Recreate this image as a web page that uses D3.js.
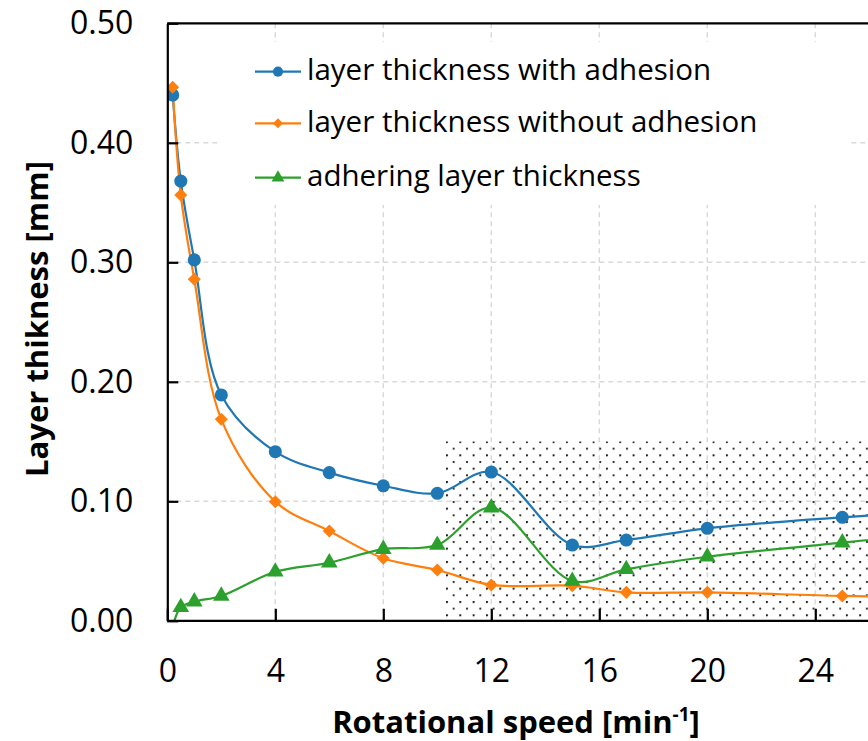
<!DOCTYPE html>
<html>
<head>
<meta charset="utf-8">
<script src="https://cdn.jsdelivr.net/npm/d3@7"></script>
<style>
  body { margin: 0; background: #fff; }
  svg { display: block; font-family: "Open Sans", sans-serif; }
</style>
</head>
<body>
<svg id="mainSVG" width="868" height="741"></svg>
<script>
// values
var speeds = [0.2, 0.5, 1, 2, 4, 6, 8, 10, 12, 15, 17, 20, 25, 30];
var withAdhesion = [0.440, 0.368, 0.302, 0.189, 0.1415, 0.124, 0.113, 0.1067, 0.1245, 0.0634, 0.0676, 0.0774, 0.0866, 0.094];
var withoutAdhesion = [0.4465, 0.3563, 0.2858, 0.1686, 0.0997, 0.0751, 0.0523, 0.0425, 0.030, 0.0294, 0.0238, 0.0238, 0.0208, 0.019];
var adhering = [-0.005, 0.0113, 0.016, 0.0208, 0.041, 0.0486, 0.060, 0.0634, 0.0947, 0.0333, 0.0431, 0.0536, 0.0654, 0.077];
var seriesNames = ["layer thickness with adhesion", "layer thickness without adhesion", "adhering layer thickness"];
var xTicks = [0, 4, 8, 12, 16, 20, 24];
var yTicks = [0, 0.1, 0.2, 0.3, 0.4, 0.5];
var shadedSpeed = [10.3, 30];
var shadedThickness = [0, 0.15];

var mainSVG = d3.select("#mainSVG");

var colors = ["#1f77b4", "#ff7f0e", "#2ca02c"];
// losango = quadrado girado 45 graus
var symbols = [d3.symbolCircle, d3.symbolSquare, d3.symbolTriangle];
var symbolRotate = [0, 45, 0];
var symbolSizes = [135, 85, 120];

// escalas
var xScale = d3.scaleLinear().domain([0, 28]).range([167.3, 923.3]);
var yScale = d3.scaleLinear().domain([0, 0.5]).range([620.8, 23.3]);

var left = xScale(0), top0 = yScale(0.5), bottom = yScale(0);

// area de recorte do grafico
mainSVG.append("defs").append("clipPath")
	.attr("id", "plotClip")
	.append("rect")
	.attr("x", left)
	.attr("y", top0)
	.attr("width", 868 - left)
	.attr("height", bottom - top0);

// padrao pontilhado
var pattern = mainSVG.select("defs").append("pattern")
	.attr("id", "dots")
	.attr("patternUnits", "userSpaceOnUse")
	.attr("width", 13.33)
	.attr("height", 13.33)
	.attr("x", 446)
	.attr("y", 441);
pattern.append("circle").attr("cx", 1).attr("cy", 1).attr("r", 1.1).attr("fill", "#111");
pattern.append("circle").attr("cx", 7.67).attr("cy", 7.67).attr("r", 1.1).attr("fill", "#111");

// grade
mainSVG.append("g")
	.selectAll("line")
	.data(xTicks.filter(function (d) { return d > 0; }))
	.enter().append("line")
	.attr("x1", function (d) { return xScale(d); })
	.attr("x2", function (d) { return xScale(d); })
	.attr("y1", top0)
	.attr("y2", bottom)
	.attr("stroke", "#d9d9d9")
	.attr("stroke-width", 1.5)
	.attr("stroke-dasharray", "5,4");
mainSVG.append("g")
	.selectAll("line")
	.data(yTicks.filter(function (d) { return d > 0 && d < 0.5; }))
	.enter().append("line")
	.attr("x1", left)
	.attr("x2", 868)
	.attr("y1", function (d) { return yScale(d); })
	.attr("y2", function (d) { return yScale(d); })
	.attr("stroke", "#d9d9d9")
	.attr("stroke-width", 1.5)
	.attr("stroke-dasharray", "5,4");

// regiao pontilhada
mainSVG.append("rect")
	.attr("x", xScale(shadedSpeed[0]))
	.attr("y", yScale(shadedThickness[1]))
	.attr("width", xScale(shadedSpeed[1]) - xScale(shadedSpeed[0]))
	.attr("height", yScale(shadedThickness[0]) - yScale(shadedThickness[1]))
	.attr("fill", "url(#dots)");

// fundo da legenda
mainSVG.append("rect")
	.attr("x", 219)
	.attr("y", 42)
	.attr("width", 629)
	.attr("height", 163)
	.attr("fill", "#fff");

// series
var series = [withAdhesion, withoutAdhesion, adhering].map(function (vals, i) {
	return speeds.map(function (s, j) { return {x: s, y: vals[j], k: i}; });
});

var line = d3.line()
	.x(function (d) { return xScale(d.x); })
	.y(function (d) { return yScale(d.y); })
	.curve(d3.curveCatmullRom.alpha(0.5));

var plot = mainSVG.append("g").attr("clip-path", "url(#plotClip)");

series.forEach(function (s, i) {
	plot.append("path")
		.datum(s)
		.attr("d", line)
		.attr("fill", "none")
		.attr("stroke", colors[i])
		.attr("stroke-width", 2.2);
});

series.forEach(function (s, i) {
	plot.selectAll(null)
		.data(s.filter(function (d) { return d.y >= 0; }))
		.enter().append("path")
		.attr("transform", function (d) {
			return "translate(" + xScale(d.x) + "," + yScale(d.y) + ") rotate(" + symbolRotate[i] + ")";
		})
		.attr("d", d3.symbol().type(symbols[i]).size(symbolSizes[i]))
		.attr("fill", colors[i]);
});

// eixos
var xAxis = d3.axisBottom(xScale)
	.tickValues(xTicks)
	.tickSizeInner(-12)
	.tickSizeOuter(0)
	.tickPadding(38.5)
	.tickFormat(d3.format("d"));
var xAxisGroup = mainSVG.append("g")
	.attr("transform", "translate(0," + bottom + ")")
	.call(xAxis);

var yAxis = d3.axisLeft(yScale)
	.tickValues(yTicks)
	.tickSizeInner(-11)
	.tickSizeOuter(0)
	.tickPadding(34)
	.tickFormat(d3.format(".2f"));
var yAxisGroup = mainSVG.append("g")
	.attr("transform", "translate(" + left + ",0)")
	.call(yAxis);

[xAxisGroup, yAxisGroup].forEach(function (g) {
	g.selectAll(".domain").attr("stroke", "#000").attr("stroke-width", 2.2);
	g.selectAll(".tick line").attr("stroke", "#000").attr("stroke-width", 2.2);
	g.selectAll("text")
		.attr("font-family", "'Open Sans', sans-serif")
		.style("font-size", "32px")
		.attr("fill", "#000");
});

// linha do eixo x ate a borda
xAxisGroup.select(".domain").attr("d", "M" + left + ",0H868");

// borda superior
mainSVG.append("line")
	.attr("x1", left)
	.attr("x2", 868)
	.attr("y1", top0)
	.attr("y2", top0)
	.attr("stroke", "#000")
	.attr("stroke-width", 2.2);

// legenda
var legend = mainSVG.append("g");
var legendY = [71.7, 123.3, 177.7];
seriesNames.forEach(function (name, i) {
	legend.append("line")
		.attr("x1", 255).attr("x2", 301)
		.attr("y1", legendY[i]).attr("y2", legendY[i])
		.attr("stroke", colors[i])
		.attr("stroke-width", 2.2);
	legend.append("path")
		.attr("transform", "translate(278," + legendY[i] + ") rotate(" + symbolRotate[i] + ")")
		.attr("d", d3.symbol().type(symbols[i]).size(symbolSizes[i] * 0.6))
		.attr("fill", colors[i]);
	legend.append("text")
		.attr("x", 307)
		.attr("y", legendY[i] + 8.5)
		.text(name)
		.style("font-size", "29.5px")
		.attr("fill", "#000");
});

// titulos dos eixos
var xTitle = mainSVG.append("text")
	.attr("x", 516)
	.attr("y", 732.5)
	.attr("text-anchor", "middle")
	.attr("font-weight", "bold")
	.style("font-size", "31px")
	.attr("fill", "#000");
xTitle.append("tspan").text("Rotational speed [min");
xTitle.append("tspan").attr("dy", -12).style("font-size", "19px").text("-1");
xTitle.append("tspan").attr("dy", 12).text("]");

mainSVG.append("text")
	.attr("transform", "translate(48,319) rotate(-90)")
	.attr("text-anchor", "middle")
	.attr("font-weight", "bold")
	.style("font-size", "31px")
	.attr("fill", "#000")
	.text("Layer thikness [mm]");
</script>
</body>
</html>
